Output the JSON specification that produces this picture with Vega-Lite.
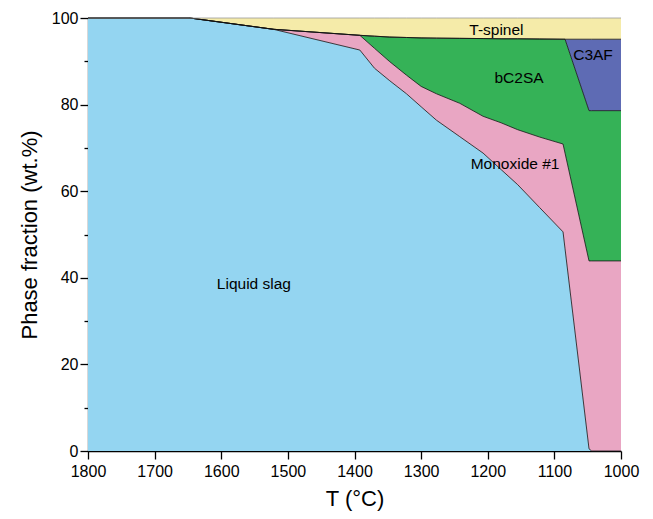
{
  "$schema": "https://vega.github.io/schema/vega-lite/v6.json",
  "autosize": "none",
  "width": 533,
  "height": 433,
  "padding": {"left": 88, "top": 18, "right": 32, "bottom": 68},
  "background": "white",
  "config": {
    "view": {"stroke": null},
    "font": "Liberation Sans",
    "axis": {
      "grid": false,
      "domainColor": "#000",
      "domainWidth": 1.3,
      "tickColor": "#000",
      "tickWidth": 1.3,
      "labelFont": "Liberation Sans",
      "labelFontSize": 16,
      "labelColor": "#000",
      "titleFont": "Liberation Sans",
      "titleFontSize": 22,
      "titleFontWeight": "normal",
      "titleColor": "#000"
    }
  },
  "datasets": {
    "phases": [
      {"T": 1800, "p1_liquid_slag": 100, "p2_monoxide_1": 0, "p3_bc2sa": 0, "p4_c3af": 0, "p5_t_spinel": 0},
      {"T": 1647, "p1_liquid_slag": 100, "p2_monoxide_1": 0, "p3_bc2sa": 0, "p4_c3af": 0, "p5_t_spinel": 0},
      {"T": 1522, "p1_liquid_slag": 97.4, "p2_monoxide_1": 0, "p3_bc2sa": 0, "p4_c3af": 0, "p5_t_spinel": 2.6},
      {"T": 1392, "p1_liquid_slag": 92.6, "p2_monoxide_1": 3.4, "p3_bc2sa": 0, "p4_c3af": 0, "p5_t_spinel": 4.0},
      {"T": 1370, "p1_liquid_slag": 88.4, "p2_monoxide_1": 4.6, "p3_bc2sa": 2.8, "p4_c3af": 0, "p5_t_spinel": 4.2},
      {"T": 1347, "p1_liquid_slag": 85.5, "p2_monoxide_1": 4.4, "p3_bc2sa": 5.7, "p4_c3af": 0, "p5_t_spinel": 4.4},
      {"T": 1322, "p1_liquid_slag": 82.5, "p2_monoxide_1": 4.3, "p3_bc2sa": 8.7, "p4_c3af": 0, "p5_t_spinel": 4.5},
      {"T": 1300, "p1_liquid_slag": 79.5, "p2_monoxide_1": 4.7, "p3_bc2sa": 11.2, "p4_c3af": 0, "p5_t_spinel": 4.6},
      {"T": 1277, "p1_liquid_slag": 76.4, "p2_monoxide_1": 6.1, "p3_bc2sa": 12.85, "p4_c3af": 0, "p5_t_spinel": 4.65},
      {"T": 1242, "p1_liquid_slag": 72.6, "p2_monoxide_1": 7.7, "p3_bc2sa": 15.0, "p4_c3af": 0, "p5_t_spinel": 4.7},
      {"T": 1207, "p1_liquid_slag": 68.8, "p2_monoxide_1": 8.5, "p3_bc2sa": 17.95, "p4_c3af": 0, "p5_t_spinel": 4.75},
      {"T": 1180, "p1_liquid_slag": 65.0, "p2_monoxide_1": 10.8, "p3_bc2sa": 19.4, "p4_c3af": 0, "p5_t_spinel": 4.8},
      {"T": 1155, "p1_liquid_slag": 61.5, "p2_monoxide_1": 12.7, "p3_bc2sa": 21.0, "p4_c3af": 0, "p5_t_spinel": 4.8},
      {"T": 1122, "p1_liquid_slag": 56.2, "p2_monoxide_1": 16.3, "p3_bc2sa": 22.65, "p4_c3af": 0, "p5_t_spinel": 4.85},
      {"T": 1087, "p1_liquid_slag": 50.6, "p2_monoxide_1": 20.3, "p3_bc2sa": 24.2, "p4_c3af": 0, "p5_t_spinel": 4.9},
      {"T": 1084, "p1_liquid_slag": 46.7, "p2_monoxide_1": 22.1, "p3_bc2sa": 26.3, "p4_c3af": 0, "p5_t_spinel": 4.9},
      {"T": 1048, "p1_liquid_slag": 0.5, "p2_monoxide_1": 43.4, "p3_bc2sa": 34.7, "p4_c3af": 16.5, "p5_t_spinel": 4.9},
      {"T": 1044, "p1_liquid_slag": 0, "p2_monoxide_1": 43.9, "p3_bc2sa": 34.7, "p4_c3af": 16.5, "p5_t_spinel": 4.9},
      {"T": 1000, "p1_liquid_slag": 0, "p2_monoxide_1": 43.9, "p3_bc2sa": 34.7, "p4_c3af": 16.5, "p5_t_spinel": 4.9}
    ],
    "labels": [
      {"T": 1187, "y": 97.2, "text": "T-spinel"},
      {"T": 1042, "y": 91.5, "text": "C3AF"},
      {"T": 1153, "y": 86.1, "text": "bC2SA"},
      {"T": 1159, "y": 66.3, "text": "Monoxide #1"},
      {"T": 1551, "y": 38.6, "text": "Liquid slag"}
    ]
  },
  "layer": [
    {
      "data": {"name": "phases"},
      "transform": [
        {"fold": ["p1_liquid_slag", "p2_monoxide_1", "p3_bc2sa", "p4_c3af", "p5_t_spinel"], "as": ["phase", "wt"]},
        {"stack": "wt", "groupby": ["T"], "sort": [{"field": "phase", "order": "ascending"}], "as": ["lo", "hi"]}
      ],
      "layer": [
        {
          "mark": {"type": "area", "interpolate": "linear", "opacity": 1},
          "encoding": {
            "x": {
              "field": "T",
              "type": "quantitative",
              "scale": {"domain": [1000, 1800], "reverse": true, "nice": false, "zero": false},
              "axis": {
                "title": "T (°C)",
                "format": "d",
                "values": [1800, 1750, 1700, 1650, 1600, 1550, 1500, 1450, 1400, 1350, 1300, 1250, 1200, 1150, 1100, 1050, 1000],
                "labelExpr": "datum.value % 100 === 0 ? datum.label : ''",
                "tickSize": {"condition": {"test": "datum.value % 100 === 0", "value": 8}, "value": 4},
                "labelPadding": 4,
                "labelFlush": false,
                "labelOverlap": false,
                "titlePadding": 9
              }
            },
            "y": {
              "field": "hi",
              "type": "quantitative",
              "scale": {"domain": [0, 100], "nice": false},
              "axis": {
                "title": "Phase fraction (wt.%)",
                "format": "d",
                "values": [0, 10, 20, 30, 40, 50, 60, 70, 80, 90, 100],
                "labelExpr": "datum.value % 20 === 0 ? datum.label : ''",
                "tickSize": {"condition": {"test": "datum.value % 20 === 0", "value": 8}, "value": 4},
                "labelPadding": 2,
                "labelFlush": false,
                "labelOverlap": false,
                "titlePadding": 10
              }
            },
            "y2": {"field": "lo"},
            "color": {
              "field": "phase",
              "type": "nominal",
              "scale": {
                "domain": ["p1_liquid_slag", "p2_monoxide_1", "p3_bc2sa", "p4_c3af", "p5_t_spinel"],
                "range": ["#94D5F1", "#E9A6C3", "#35B257", "#5E6BB4", "#F5EBA9"]
              },
              "legend": null
            }
          }
        },
        {
          "mark": {"type": "line", "interpolate": "linear", "strokeWidth": 0.8},
          "encoding": {
            "x": {"field": "T", "type": "quantitative"},
            "y": {"field": "hi", "type": "quantitative"},
            "detail": {"field": "phase", "type": "nominal"},
            "stroke": {
              "condition": {"test": "datum.phase === 'p5_t_spinel'", "value": "#9a9a9a"},
              "value": "#111"
            }
          }
        }
      ]
    },
    {
      "data": {"name": "labels"},
      "mark": {"type": "text", "font": "Liberation Sans", "fontSize": 15.5, "color": "#000", "baseline": "middle", "align": "center"},
      "encoding": {
        "x": {"field": "T", "type": "quantitative"},
        "y": {"field": "y", "type": "quantitative"},
        "text": {"field": "text"}
      }
    }
  ]
}
